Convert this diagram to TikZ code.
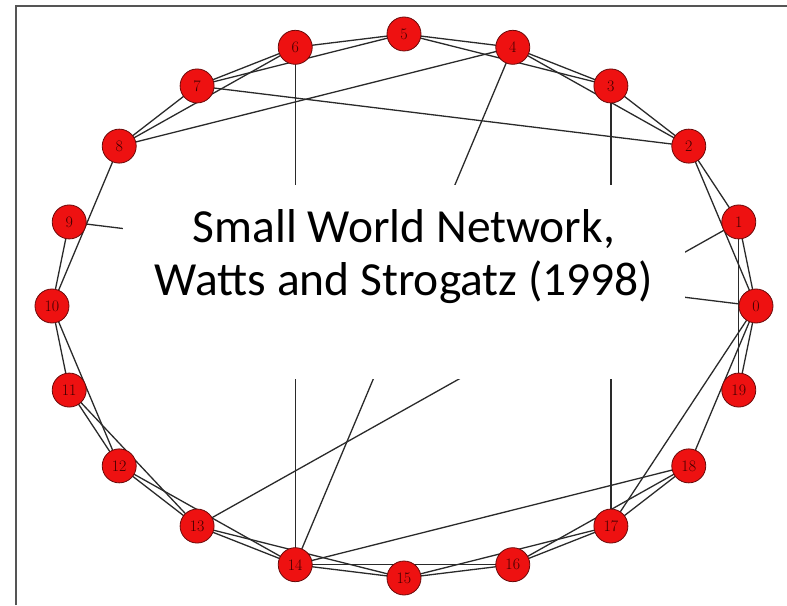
\documentclass[tikz,border=0pt]{standalone}
\usepackage{fontspec}
\usepackage{tikz}
\usetikzlibrary{positioning}
\newfontfamily\titlefont{Carlito}
\definecolor{vertexred}{HTML}{EE1111}
\definecolor{vertexrim}{HTML}{6A0A0A}
\definecolor{edgegray}{HTML}{2A2A2A}
\definecolor{framegray}{HTML}{555555}

\begin{document}
\begin{tikzpicture}[
    x=1pt, y=1pt,
    vertex/.style={circle, draw=vertexrim, fill=vertexred, line width=0.8pt,
                   minimum size=34pt, inner sep=0pt, font=\fontsize{16}{16}\selectfont,
                   text=black!75!red},
    link/.style={draw=edgegray, line width=1.3pt},
    cover/.style={fill=white, inner sep=0pt, minimum width=562pt, minimum height=193pt}
]
\useasboundingbox (-404,-299) rectangle (383,306);

% frame (only top and left edges fall inside the page)
\draw[framegray, line width=2pt] (-388,-299) -- (-388,300) -- (383,300);

% ring of twenty vertices on an ellipse
\foreach \k in {0,...,19}{
    \coordinate (p\k) at ({352*cos(18*\k)},{272*sin(18*\k)});
}

% ring edges plus rewired shortcuts
\foreach \a/\b in {0/1,0/2,0/9,0/17,0/18,0/19,1/2,1/19,1/13,2/3,2/4,2/7,
                   3/4,3/5,3/17,4/5,4/8,4/14,5/6,5/7,6/7,6/8,6/14,7/8,
                   8/10,9/10,10/11,10/12,11/12,11/13,12/13,12/14,13/14,13/15,
                   14/15,14/16,14/18,15/16,15/17,16/17,16/18,17/18}{
    \draw[link] (p\a) -- (p\b);
}

% white panel with the title
\node[cover] (panel) at (0,24) {};
\node[align=center, font=\titlefont\fontsize{47.5}{53}\selectfont] (title) at (0,49)
    {Small World Network,\\
     Watts and Strogatz (1998)};

\foreach \k in {0,...,19}{
    \node[vertex] (n\k) at (p\k) {\k};
}

\end{tikzpicture}
\end{document}
